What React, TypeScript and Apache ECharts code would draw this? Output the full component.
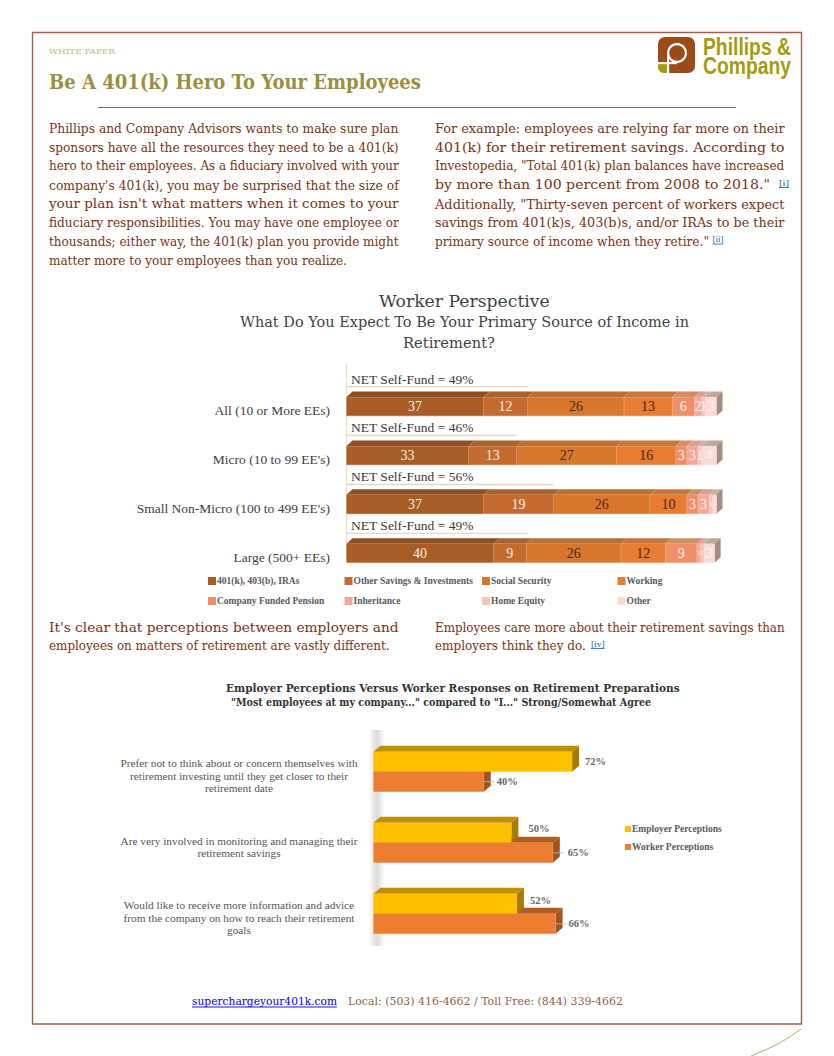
import React, { useEffect, useRef } from "react";
import * as echarts from "echarts";

// ---------- data: worker perspective ----------
const workerCategories = ["All (10 or More EEs)", "Micro (10 to 99 EE's)", "Small Non-Micro (100 to 499 EE's)", "Large (500+ EEs)"];
const savings401k = [37, 33, 37, 39.7];
const otherSavings = [12, 13, 19, 8.9];
const socialSecurity = [26, 27, 26, 25.6];
const working = [13, 16, 10, 12];
const pension = [6, 3, 3, 8.5];
const inheritance = [2, 3, 3, 1];
const homeEquity = [1, 1, 1, 1];
const otherIncome = [3, 4, 1, 2.8];
const netSelfFund = [49, 46, 56, 49];
const workerSeriesNames = ["401(k), 403(b), IRAs", "Other Savings & Investments", "Social Security", "Working", "Company Funded Pension", "Inheritance", "Home Equity", "Other"];
const workerValues = [savings401k, otherSavings, socialSecurity, working, pension, inheritance, homeEquity, otherIncome];

// ---------- data: employer vs worker ----------
const perceptionCategories = [
  "Prefer not to think about or concern themselves with\nretirement investing until they get closer to their\nretirement date",
  "Are very involved in monitoring and managing their\nretirement savings",
  "Would like to receive more information and advice\nfrom the company on how to reach their retirement\ngoals",
];
const employerPerceptions = [72, 50, 52];
const workerPerceptions = [40, 65, 66];

// ---------- page text ----------
const leftColumn = [
  "Phillips and Company Advisors wants to make sure plan",
  "sponsors have all the resources they need to be a 401(k)",
  "hero to their employees. As a fiduciary involved with your",
  "company's 401(k), you may be surprised that the size of",
  "your plan isn't what matters when it comes to your",
  "fiduciary responsibilities. You may have one employee or",
  "thousands; either way, the 401(k) plan you provide might",
  "matter more to your employees than you realize.",
];
const rightColumn = [
  "For example: employees are relying far more on their",
  "401(k) for their retirement savings. According to",
  "Investopedia, \"Total 401(k) plan balances have increased",
  "by more than 100 percent from 2008 to 2018.\"",
  "Additionally, \"Thirty-seven percent of workers expect",
  "savings from 401(k)s, 403(b)s, and/or IRAs to be their",
  "primary source of income when they retire.\"",
];

const SERIF = "'Liberation Serif', serif";
const DJ = "'DejaVu Serif', serif";
const SANS = "'Liberation Sans', sans-serif";
const BODY = "#7b3210";

const workerColors = ["#a85d27", "#c46c30", "#d8782f", "#e67d33", "#ef8f68", "#f4a898", "#f6c4b8", "#f8dcd4"];
const workerTops = ["#8d5026", "#a8632f", "#bc6e35", "#c8773c", "#d28d66", "#d9a18f", "#cfae9f", "#bba89f"];
const workerLabelColors = ["#fbeee4", "#fbeee4", "#4a2410", "#4a2410", "#fdf3ee", "#fdf3ee", "#fdf3ee", "#fdf3ee"];

const measureCtx = document.createElement("canvas").getContext("2d") as CanvasRenderingContext2D;

function fit(text: string, x: number, y: number, width: number, font: string, fill: string) {
  measureCtx.font = font;
  const natural = measureCtx.measureText(text).width;
  return {
    type: "text",
    x,
    y,
    scaleX: width / natural,
    silent: true,
    style: { text, font, fill, textAlign: "left", textVerticalAlign: "middle" },
  };
}

function pageGraphics() {
  const bodyFont = `12.5px ${DJ}`;
  const rightEnds = [785, 785, 785, 770, 785, 785, 709];
  const lineY = (i: number) => 128.7 + i * 18.85;
  const els: any[] = [
    { type: "rect", shape: { x: 32.5, y: 32.5, width: 769, height: 991.5 }, style: { fill: "none", stroke: "#9b5f4a", lineWidth: 1.4 } },
    { type: "bezierCurve", shape: { x1: 801, y1: 1029, cpx1: 782, cpy1: 1044, x2: 751, y2: 1056 }, style: { fill: "none", stroke: "#b5ab6b", lineWidth: 1 } },
    fit("WHITE PAPER", 49, 51, 66, `7.5px ${DJ}`, "#c0b886"),
    fit("Be A 401(k) Hero To Your Employees", 49, 82, 372, `bold 20px ${DJ}`, "#9c8f3c"),
    { type: "line", shape: { x1: 98, y1: 107.5, x2: 736, y2: 107.5 }, style: { stroke: "#9b5f4a", lineWidth: 1 } },
    // logo
    { type: "rect", shape: { x: 658, y: 37, width: 37, height: 36, r: 7 }, style: { fill: "#9c4a17" } },
    { type: "rect", shape: { x: 658, y: 64, width: 9.5, height: 9, r: [0, 0, 0, 6] }, style: { fill: "#a69a0f" } },
    { type: "ring", shape: { cx: 677, cy: 53, r: 10, r0: 7.8 }, style: { fill: "#ffffff" } },
    { type: "rect", shape: { x: 667, y: 52, width: 2.2, height: 21 }, style: { fill: "#ffffff" } },
    { type: "rect", shape: { x: 658, y: 62, width: 19, height: 2.2 }, style: { fill: "#ffffff" } },
    fit("Phillips &", 703, 47, 88, `bold 23px ${SANS}`, "#a69a0f"),
    fit("Company", 703, 66, 88, `bold 23px ${SANS}`, "#a69a0f"),
  ];
  leftColumn.forEach((t, i) => els.push(fit(t, 49, lineY(i), i === 7 ? 298 : 350, bodyFont, BODY)));
  rightColumn.forEach((t, i) => els.push(fit(t, 435, lineY(i), rightEnds[i] - 435, bodyFont, BODY)));
  const marker = (t: string, x: number, y: number, w: number) => {
    els.push(fit(t, x, y, w, `7.5px ${SERIF}`, "#0563c1"));
    els.push({ type: "line", shape: { x1: x, y1: y + 4, x2: x + w, y2: y + 4 }, style: { stroke: "#0563c1", lineWidth: 0.8 } });
  };
  marker("[i]", 779, 183.5, 10);
  marker("[ii]", 712.5, 240, 11);
  marker("[iv]", 591, 644.5, 13.5);
  // mid-page paragraphs
  els.push(fit("It's clear that perceptions between employers and", 49, 628, 350, bodyFont, BODY));
  els.push(fit("employees on matters of retirement are vastly different.", 49, 646, 341, bodyFont, BODY));
  els.push(fit("Employees care more about their retirement savings than", 435, 628, 350, bodyFont, BODY));
  els.push(fit("employers think they do.", 435, 646, 151, bodyFont, BODY));
  // chart 1 titles
  els.push(fit("Worker Perspective", 379, 301, 171, `16.5px ${DJ}`, "#3f3f3f"));
  els.push(fit("What Do You Expect To Be Your Primary Source of Income in", 240, 322, 449, `15.5px ${DJ}`, "#3f3f3f"));
  els.push(fit("Retirement?", 403, 342.5, 92, `15.5px ${DJ}`, "#3f3f3f"));
  els.push({ type: "line", shape: { x1: 346.5, y1: 363, x2: 346.5, y2: 562 }, style: { stroke: "#eeddc8", lineWidth: 1.2 } });
  // chart 2 titles
  els.push(fit("Employer Perceptions Versus Worker Responses on Retirement Preparations", 226, 688, 454, `bold 11px ${DJ}`, "#333333"));
  els.push(fit("\"Most employees at my company...\" compared to \"I...\" Strong/Somewhat Agree", 231, 702, 421, `bold 10.5px ${DJ}`, "#333333"));
  // wall shadow behind chart 2
  els.push({
    type: "rect",
    shape: { x: 369, y: 730, width: 16, height: 216 },
    style: {
      fill: new echarts.graphic.LinearGradient(0, 0, 1, 0, [
        { offset: 0, color: "rgba(205,205,205,0)" },
        { offset: 0.5, color: "rgba(205,205,205,0.75)" },
        { offset: 1, color: "rgba(205,205,205,0)" },
      ]),
    },
  });
  // footer
  els.push(fit("superchargeyour401k.com", 192, 1001, 145, `11px ${DJ}`, "#0000ee"));
  els.push({ type: "line", shape: { x1: 192, y1: 1007, x2: 337, y2: 1007 }, style: { stroke: "#0000ee", lineWidth: 0.9 } });
  els.push(fit("Local: (503) 416-4662 / Toll Free: (844) 339-4662", 348, 1001, 275, `11px ${DJ}`, "#935f48"));
  return els;
}

function buildOption() {
  const W_BAR = 19;
  const W_DX = 6;
  const W_DY = 5.5;
  const depthRows: number[][] = [];
  workerCategories.forEach((_, c) => {
    let acc = 0;
    workerValues.forEach((vals, s) => {
      depthRows.push([c, acc, acc + vals[c], s]);
      acc += vals[c];
    });
  });
  const P_BAR = 20;
  const P_DX = 7;
  const P_DY = 6;
  const perceptionRows: number[][] = [
    ...workerPerceptions.map((v, c) => [c, v, 1]),
    ...employerPerceptions.map((v, c) => [c, v, 0]),
  ];
  const labelShiftEmployer = [[0, 0], [4, -4], [0, -3]];
  const labelShiftWorker = [[0, 0], [2, 0], [0, 0]];
  const legendText = { fontSize: 9.5, fontWeight: "bold", color: "#595959", fontFamily: SERIF };
  const workerLegendLeft = [208, 344.5, 482, 617.5];
  const workerLegendTop = [576, 596];
  const isCrowded = (s: number, c: number) => {
    const r = (i: number) => (i >= 0 && i < workerValues.length ? Math.round(workerValues[i][c]) : 0);
    return r(s) === 1 && (r(s - 1) === 1 || r(s + 1) === 1);
  };

  return {
    animation: false,
    backgroundColor: "#ffffff",
    graphic: { elements: pageGraphics() },
    grid: [
      { left: 346.5, top: 382.1, width: 370, height: 195.6 },
      { left: 373.4, top: 736.2, width: 276, height: 213.2 },
    ],
    xAxis: [
      { gridIndex: 0, type: "value", min: 0, max: 100, show: false },
      { gridIndex: 1, type: "value", min: 0, max: 100, show: false },
    ],
    yAxis: [
      {
        gridIndex: 0,
        type: "category",
        inverse: true,
        data: workerCategories,
        axisLine: { show: false },
        axisTick: { show: false },
        axisLabel: { margin: 16.5, fontSize: 13.5, color: "#404040", fontFamily: SERIF, verticalAlign: "top", lineHeight: 8 },
      },
      {
        gridIndex: 1,
        type: "category",
        inverse: true,
        data: perceptionCategories,
        axisLine: { show: false },
        axisTick: { show: false },
        axisLabel: { show: false },
      },
    ],
    legend: [
      ...workerSeriesNames.map((name, i) => ({
        data: [name],
        left: workerLegendLeft[i % 4],
        top: workerLegendTop[i < 4 ? 0 : 1],
        padding: 0,
        icon: "rect",
        itemWidth: 6,
        itemHeight: 6,
        selectedMode: false,
        textStyle: { ...legendText, padding: [0, 0, 0, -3] },
      })),
      ...["Employer Perceptions", "Worker Perceptions"].map((name, i) => ({
        data: [name],
        left: 625,
        top: 824 + i * 18,
        padding: 0,
        icon: "rect",
        itemWidth: 6,
        itemHeight: 6,
        selectedMode: false,
        textStyle: { ...legendText, padding: [0, 0, 0, -4] },
      })),
    ],
    series: [
      {
        type: "custom",
        xAxisIndex: 0,
        yAxisIndex: 0,
        z: 1,
        silent: true,
        encode: { x: [1, 2], y: 0 },
        data: depthRows,
        renderItem: (_: any, api: any) => {
          const c = api.value(0);
          const s = api.value(3);
          const a = api.coord([api.value(1), c]);
          const b = api.coord([api.value(2), c]);
          const yt = a[1] - W_BAR / 2;
          const children: any[] = [
            {
              type: "polygon",
              shape: { points: [[a[0], yt], [a[0] + W_DX, yt - W_DY], [b[0] + W_DX, yt - W_DY], [b[0], yt]] },
              style: { fill: workerTops[s] },
            },
          ];
          if (s === workerValues.length - 1) {
            children.push({
              type: "polygon",
              shape: { points: [[b[0], yt], [b[0] + W_DX, yt - W_DY], [b[0] + W_DX, yt + W_BAR - W_DY], [b[0], yt + W_BAR]] },
              style: { fill: "#a68c80" },
            });
          }
          return { type: "group", children };
        },
      },
      ...workerSeriesNames.map((name, i) => ({
        name,
        type: "bar",
        stack: "worker",
        xAxisIndex: 0,
        yAxisIndex: 0,
        barWidth: W_BAR,
        z: 2,
        itemStyle: { color: workerColors[i], borderColor: workerColors[i], borderWidth: 0.4 },
        label: {
          show: true,
          position: "inside",
          fontSize: 14,
          fontFamily: SERIF,
          color: workerLabelColors[i],
          formatter: (p: any) => String(Math.round(p.value)),
        },
        data: workerValues[i].map((value, c) => (isCrowded(i, c) ? { value, label: { fontSize: 7 } } : { value })),
      })),
      {
        type: "custom",
        xAxisIndex: 0,
        yAxisIndex: 0,
        z: 3,
        silent: true,
        encode: { x: 1, y: 0 },
        data: netSelfFund.map((v, c) => [c, v]),
        renderItem: (_: any, api: any) => {
          const c = api.value(0);
          const v = api.value(1);
          const origin = api.coord([0, c]);
          const end = api.coord([v, c]);
          return {
            type: "group",
            children: [
              { type: "line", shape: { x1: origin[0], y1: origin[1] - 19.9, x2: end[0], y2: end[1] - 19.9 }, style: { stroke: "#ecd6bf", lineWidth: 1.4 } },
              {
                type: "text",
                style: {
                  text: `NET Self-Fund = ${v}%`,
                  x: origin[0] + 4.5,
                  y: origin[1] - 27.5,
                  font: `13.5px ${SERIF}`,
                  fill: "#383838",
                  textAlign: "left",
                  textVerticalAlign: "middle",
                },
              },
            ],
          };
        },
      },
      {
        type: "custom",
        xAxisIndex: 1,
        yAxisIndex: 1,
        z: 1,
        silent: true,
        encode: { x: 1, y: 0 },
        data: perceptionRows,
        renderItem: (_: any, api: any) => {
          const c = api.value(0);
          const v = api.value(1);
          const isWorker = api.value(2) === 1;
          const o = api.coord([0, c]);
          const e = api.coord([v, c]);
          const yt = isWorker ? e[1] : e[1] - P_BAR;
          const top = isWorker ? "#b35c22" : "#bf9000";
          const side = isWorker ? "#a3541f" : "#a67c00";
          const children: any[] = [
            { type: "polygon", shape: { points: [[o[0], yt], [o[0] + P_DX, yt - P_DY], [e[0] + P_DX, yt - P_DY], [e[0], yt]] }, style: { fill: top } },
            { type: "polygon", shape: { points: [[e[0], yt], [e[0] + P_DX, yt - P_DY], [e[0] + P_DX, yt + P_BAR - P_DY], [e[0], yt + P_BAR]] }, style: { fill: side } },
          ];
          if (isWorker) {
            children.push({ type: "line", shape: { x1: e[0], y1: yt + P_BAR / 2, x2: e[0] + 11, y2: yt + P_BAR / 2 }, style: { stroke: "#bfbfbf", lineWidth: 0.8 } });
            // category label, centred in its own column to the left of the wall
            children.push({
              type: "text",
              style: {
                text: perceptionCategories[c],
                x: 239,
                y: o[1] + 4,
                font: `11.3px ${SERIF}`,
                lineHeight: 12.5,
                fill: "#555555",
                textAlign: "center",
                textVerticalAlign: "middle",
              },
            });
          }
          return { type: "group", children };
        },
      },
      {
        name: "Employer Perceptions",
        type: "bar",
        xAxisIndex: 1,
        yAxisIndex: 1,
        barWidth: P_BAR,
        barGap: 0,
        z: 2,
        itemStyle: { color: "#ffc000" },
        data: employerPerceptions.map((value, i) => ({
          value,
          label: { offset: labelShiftEmployer[i] },
        })),
        label: { show: true, position: "right", distance: 13, formatter: "{c}%", fontSize: 10.5, fontWeight: "bold", color: "#666666", fontFamily: SERIF },
      },
      {
        name: "Worker Perceptions",
        type: "bar",
        xAxisIndex: 1,
        yAxisIndex: 1,
        barWidth: P_BAR,
        barGap: 0,
        z: 2,
        itemStyle: { color: "#ed7d31" },
        data: workerPerceptions.map((value, i) => ({
          value,
          label: { offset: labelShiftWorker[i] },
        })),
        label: { show: true, position: "right", distance: 13, formatter: "{c}%", fontSize: 10.5, fontWeight: "bold", color: "#666666", fontFamily: SERIF },
      },
    ],
  };
}

export default function App() {
  const ref = useRef<HTMLDivElement>(null);
  useEffect(() => {
    document.body.style.margin = "0";
    const chart = echarts.init(ref.current as HTMLDivElement, undefined, { renderer: "svg" });
    chart.setOption(buildOption() as any);
    return () => chart.dispose();
  }, []);
  return <div ref={ref} style={{ position: "absolute", left: 0, top: 0, width: 834, height: 1056 }} />;
}
